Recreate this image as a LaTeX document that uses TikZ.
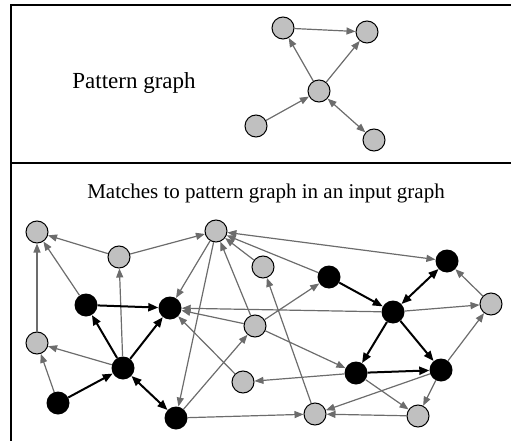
\documentclass[tikz,border=0pt]{standalone}
\usepackage{fontspec}
\setmainfont{Liberation Serif}
\usetikzlibrary{arrows.meta}
\definecolor{nodegray}{RGB}{192,192,192}
\definecolor{edgegray}{RGB}{108,108,108}
\tikzset{>={Triangle[length=9pt,width=7pt]}}
\tikzset{
  gnode/.style={circle, draw=black, line width=1pt, fill=nodegray, minimum size=22pt, inner sep=0pt},
  bnode/.style={circle, fill=black, minimum size=23pt, inner sep=0pt},
  gedge/.style={->, draw=edgegray, line width=1.2pt},
  bedge/.style={>={Triangle[length=10pt,width=8pt]}, ->, draw=black, line width=2pt},
}

\begin{document}
\begin{tikzpicture}[x=1pt, y=-1pt]
    \useasboundingbox (0,0) rectangle (511,441);
    % frame
    \draw[line width=2pt] (511,5) -- (11,5) -- (11,441);
    \draw[line width=2pt] (11,163) -- (511,163);
    \node[font=\fontsize{23}{26}\selectfont] (ptitle) at (134,83) {Pattern graph};
    \node[font=\fontsize{21}{24}\selectfont] (mtitle) at (266,193) {Matches to pattern graph in an input graph};
    % pattern graph
    \node[gnode] (p1) at (283,28) {};
    \node[gnode] (p2) at (367,32) {};
    \node[gnode] (p3) at (319,91) {};
    \node[gnode] (p4) at (256,126) {};
    \node[gnode] (p5) at (374,140) {};
    \draw[gedge] (p1) -- (p2);
    \draw[gedge] (p3) -- (p1);
    \draw[gedge] (p3) -- (p2);
    \draw[gedge] (p4) -- (p3);
    \draw[gedge,<->] (p3) -- (p5);
    % input graph
    \node[gnode] (u1) at (37,232) {};
    \node[gnode] (u2) at (119,257) {};
    \node[gnode] (u3) at (216,231) {};
    \node[gnode] (u4) at (263,267) {};
    \node[gnode] (u5) at (37,343) {};
    \node[gnode] (u6) at (255,326) {};
    \node[gnode] (u7) at (243,382) {};
    \node[gnode] (u8) at (315,414) {};
    \node[gnode] (u9) at (418,416) {};
    \node[gnode] (u10) at (491,304) {};
    \node[bnode] (m1) at (86,305) {};
    \node[bnode] (m2) at (170,308) {};
    \node[bnode] (m3) at (123,368) {};
    \node[bnode] (m4) at (58,403) {};
    \node[bnode] (m5) at (176,418) {};
    \node[bnode] (m6) at (329,277) {};
    \node[bnode] (m7) at (393,312) {};
    \node[bnode] (m8) at (447,261) {};
    \node[bnode] (m9) at (356,373) {};
    \node[bnode] (m10) at (441,370) {};
    \draw[gedge] (u2) -- (u1);
    \draw[gedge] (m1) -- (u1);
    \draw[gedge] (u5) -- (u1);
    \draw[gedge] (m3) -- (u2);
    \draw[gedge] (m3) -- (u5);
    \draw[gedge] (m4) -- (u5);
    \draw[gedge] (u2) -- (u3);
    \draw[gedge] (u3) -- (m2);
    \draw[gedge] (u3) -- (m5);
    \draw[gedge] (u6) -- (u3);
    \draw[gedge] (u4) -- (u3);
    \draw[gedge] (m6) -- (u3);
    \draw[gedge,<->] (u3) -- (m8);
    \draw[gedge] (u8) -- (u4);
    \draw[gedge] (u6) -- (m6);
    \draw[gedge] (u6) -- (m2);
    \draw[gedge] (m7) -- (m2);
    \draw[gedge] (m7) -- (u10);
    \draw[gedge] (u7) -- (m2);
    \draw[gedge] (m5) -- (u6);
    \draw[gedge] (m5) -- (u8);
    \draw[gedge] (m9) -- (u7);
    \draw[gedge] (u6) -- (m9);
    \draw[gedge] (m10) -- (u8);
    \draw[gedge] (u9) -- (u8);
    \draw[gedge] (m9) -- (u9);
    \draw[gedge] (m10) -- (u9);
    \draw[gedge] (m10) -- (u10);
    \draw[gedge] (u10) -- (m8);
    % matched edges
    \draw[bedge] (m1) -- (m2);
    \draw[bedge] (m3) -- (m1);
    \draw[bedge] (m3) -- (m2);
    \draw[bedge] (m4) -- (m3);
    \draw[bedge,<->] (m3) -- (m5);
    \draw[bedge] (m6) -- (m7);
    \draw[bedge,<->] (m7) -- (m8);
    \draw[bedge] (m7) -- (m9);
    \draw[bedge] (m7) -- (m10);
    \draw[bedge] (m9) -- (m10);
\end{tikzpicture}
\end{document}
